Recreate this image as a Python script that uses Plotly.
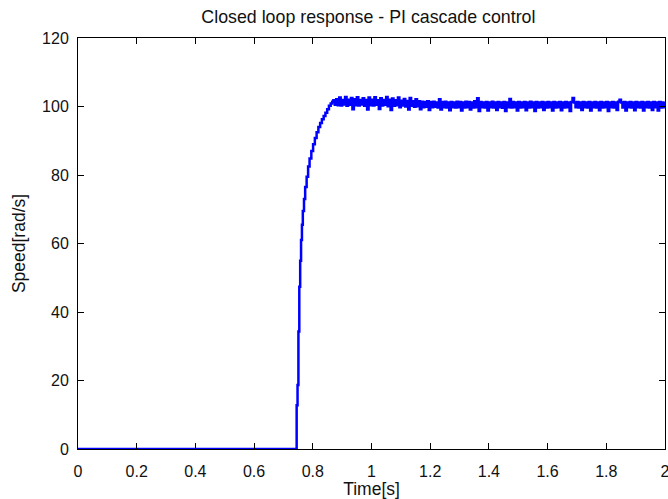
import numpy as np
import plotly.graph_objects as go

# ---------------- data ----------------
title_text = "Closed loop response - PI cascade control"
x_label = "Time[s]"
y_label = "Speed[rad/s]"

x_ticks = [0, 0.2, 0.4, 0.6, 0.8, 1.0, 1.2, 1.4, 1.6, 1.8, 2.0]
x_tick_labels = ["0", "0.2", "0.4", "0.6", "0.8", "1", "1.2", "1.4", "1.6", "1.8", "2"]
y_ticks = [0, 20, 40, 60, 80, 100, 120]
y_tick_labels = ["0", "20", "40", "60", "80", "100", "120"]

# idle + rise (explicit sample times and speeds)
rise_time = [0.000, 0.745, 0.748, 0.751, 0.754, 0.757, 0.760, 0.763, 0.766, 0.770,
             0.774, 0.779, 0.784, 0.789, 0.795, 0.801, 0.807, 0.813, 0.819, 0.825,
             0.831, 0.837, 0.843, 0.849, 0.855, 0.861, 0.866]
rise_speed = [0.0, 12.8, 18.7, 34.3, 47.4, 55.0, 61.0, 65.5, 69.5, 73.0,
              76.5, 79.5, 82.5, 84.8, 87.0, 89.0, 90.8, 92.5, 94.0, 95.2,
              96.3, 97.2, 98.2, 99.2, 100.2, 100.9, 101.4]

# steady state: sampled every 0.005 s from 0.870 s to 2.000 s
steady_start = 0.870
steady_step = 0.005
steady_speed = [
    101.8, 100.5, 102.1, 100.4, 102.6, 100.3, 101.9, 100.6, 102.8, 100.2, 102.0, 100.5, 102.5, 99.2, 102.1, 100.4, 102.7, 100.3, 101.9, 100.6,
    102.4, 100.2, 101.9, 99.1, 102.6, 100.4, 102.0, 100.3, 102.7, 100.5, 101.8, 99.3, 102.4, 100.3, 101.9, 100.5, 102.8, 100.1, 102.0, 99.0,
    102.3, 100.2, 101.8, 100.4, 102.6, 99.8, 101.7, 100.3, 102.2, 100.0, 101.6, 99.1, 102.5, 100.2, 101.5, 99.9, 102.1, 100.1, 101.5, 99.2,
    101.4, 99.8, 101.3, 99.9, 101.5, 99.0, 101.3, 99.8, 101.4, 99.9, 101.2, 99.7, 102.1, 99.1, 101.3, 99.8, 101.4, 99.7, 101.2, 98.9,
    101.3, 99.8, 101.2, 99.7, 101.4, 99.8, 101.3, 98.8, 101.2, 99.7, 101.4, 99.8, 101.3, 99.1, 101.2, 99.7, 101.5, 99.8, 102.4, 98.7,
    101.3, 99.8, 101.2, 99.7, 101.3, 98.8, 101.2, 99.8, 101.4, 99.7, 101.2, 99.0, 101.3, 99.8, 101.2, 99.6, 101.3, 98.7, 101.2, 99.8,
    102.2, 99.7, 101.3, 99.8, 101.2, 98.8, 101.3, 99.7, 101.2, 99.8, 101.3, 98.9, 101.2, 99.7, 101.4, 99.8, 101.2, 98.7, 101.3, 99.7,
    101.2, 99.8, 101.3, 99.0, 101.2, 99.7, 101.3, 99.8, 101.2, 98.8, 101.3, 99.7, 101.2, 99.8, 101.3, 98.9, 101.2, 99.7, 101.3, 99.8,
    101.2, 98.7, 101.3, 102.5, 101.2, 99.8, 101.3, 99.7, 101.2, 99.0, 101.3, 99.8, 101.2, 99.7, 101.3, 98.8, 101.2, 99.8, 101.3, 99.7,
    101.2, 98.9, 101.3, 99.7, 101.2, 99.8, 101.3, 98.7, 101.2, 99.8, 101.3, 99.7, 101.2, 99.0, 101.4, 102.0, 101.2, 99.7, 101.3, 98.8,
    101.2, 99.8, 101.3, 99.7, 101.2, 98.9, 101.3, 99.8, 101.2, 99.7, 101.3, 98.8, 101.2, 99.8, 101.3, 99.7, 101.2, 99.0, 101.3, 99.8,
    101.2, 98.8, 101.3, 99.7, 101.2, 99.8, 101.3,
]

steady_time = [round(steady_start + i * steady_step, 4) for i in range(len(steady_speed))]

time = rise_time + steady_time
speed = rise_speed + steady_speed

# ---------------- figure ----------------
FONT = "Liberation Sans, Arial, sans-serif"

fig = go.Figure()
fig.add_trace(go.Scatter(
    x=time, y=speed, mode="lines",
    line=dict(color="#0000FF", width=2.5, shape="hv"),
    showlegend=False, hoverinfo="skip",
))

axis_common = dict(
    showline=True, linecolor="black", linewidth=1, mirror="ticks",
    ticks="inside", ticklen=6, tickcolor="black", tickwidth=1,
    showgrid=False, zeroline=False,
    tickfont=dict(family=FONT, size=16, color="#111111"),
    ticklabeloverflow="allow",
)

fig.update_xaxes(
    range=[0, 2], tickmode="array", tickvals=x_ticks, ticktext=x_tick_labels,
    title=dict(text=x_label, font=dict(family=FONT, size=17.5, color="#111111"), standoff=4),
    ticklabelstandoff=8,
    **axis_common,
)
fig.update_yaxes(
    range=[0, 120], tickmode="array", tickvals=y_ticks, ticktext=y_tick_labels,
    title=dict(text=y_label, font=dict(family=FONT, size=17.5, color="#111111"), standoff=11),
    ticklabelstandoff=5,
    **axis_common,
)

fig.update_layout(
    width=668, height=499,
    margin=dict(l=78, r=3, t=38, b=50, autoexpand=False),
    paper_bgcolor="white", plot_bgcolor="white",
    title=dict(text=title_text, x=0.5515, xanchor="center", y=1 - 17 / 499, yref="container",
               yanchor="middle", font=dict(family=FONT, size=17.8, color="#111111")),
)

fig.write_html(
    "out.html",
    config={"displayModeBar": False, "staticPlot": True},
    post_script="document.body.style.margin='0';document.body.style.padding='0';document.body.style.overflow='hidden';",
)
